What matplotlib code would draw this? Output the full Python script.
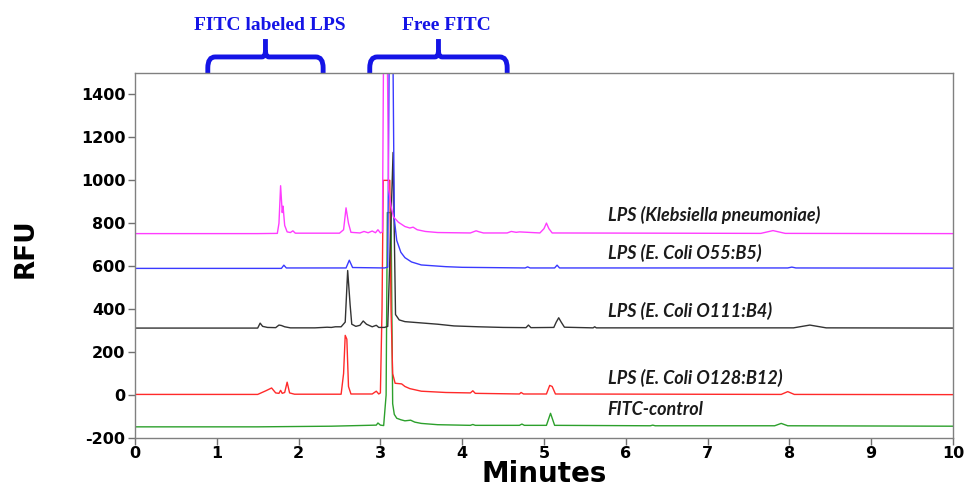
import matplotlib
matplotlib.use("Agg")
import matplotlib.pyplot as plt
from matplotlib.path import Path
from matplotlib.patches import PathPatch
from matplotlib.transforms import blended_transform_factory

plt.rcParams["axes.unicode_minus"] = False

# Retention times (minutes) and signals (RFU) for each electropherogram trace
klebsiella_t = [0.0, 1.50, 1.74, 1.76, 1.78, 1.80, 1.81, 1.83, 1.86, 1.90, 1.93, 1.96, 2.50, 2.55,
                2.58, 2.61, 2.64, 2.75, 2.80, 2.85, 2.90, 2.94, 2.97, 3.00, 3.025, 3.045, 3.075,
                3.10, 3.13, 3.16, 3.22, 3.30, 3.36, 3.40, 3.45, 3.55, 3.70, 4.10, 4.17, 4.21, 4.26,
                4.55, 4.60, 4.66, 4.70, 4.95, 5.00, 5.03, 5.06, 5.10, 7.65, 7.80, 7.95, 10.0]
klebsiella_y = [752, 752, 753, 800, 975, 850, 880, 790, 760, 757, 765, 754, 754, 770,
                872, 800, 758, 755, 762, 756, 764, 756, 770, 755, 760, 2000, 2000,
                960, 880, 830, 805, 785, 778, 782, 770, 762, 757, 755, 765, 760, 755,
                755, 762, 758, 760, 755, 775, 801, 775, 755, 753, 766, 753, 752]

o55_t = [0.0, 1.79, 1.82, 1.85, 2.58, 2.62, 2.66, 3.05, 3.09, 3.115, 3.145, 3.17, 3.20, 3.25,
         3.30, 3.38, 3.50, 3.80, 4.00, 4.77, 4.80, 4.83, 5.13, 5.16, 5.19, 7.98, 8.03, 8.08, 10.0]
o55_y = [590, 590, 605, 592, 592, 628, 594, 592, 596, 2000, 2000, 820, 720, 665,
         640, 620, 606, 598, 595, 592, 597, 592, 592, 605, 592, 592, 596, 592, 591]

o111_t = [0.0, 1.50, 1.53, 1.56, 1.62, 1.72, 1.76, 1.79, 1.83, 1.90, 2.20, 2.35, 2.40, 2.45,
          2.52, 2.57, 2.60, 2.63, 2.65, 2.70, 2.75, 2.79, 2.83, 2.90, 2.95, 2.98, 3.05, 3.09,
          3.155, 3.185, 3.23, 3.30, 3.50, 3.70, 3.90, 4.20, 4.50, 4.78, 4.81, 4.84,
          5.12, 5.15, 5.18, 5.21, 5.25, 5.60, 5.62, 5.64, 8.05, 8.25, 8.45, 10.0]
o111_y = [312, 312, 335, 320, 315, 314, 326, 324, 318, 313, 313, 316, 315, 318,
          318, 340, 580, 420, 330, 320, 325, 345, 330, 318, 325, 315, 315, 320,
          1130, 375, 350, 342, 336, 330, 322, 318, 315, 314, 326, 314,
          315, 340, 360, 340, 316, 313, 318, 313, 313, 326, 313, 312]

o128_t = [0.0, 1.50, 1.60, 1.67, 1.72, 1.76, 1.78, 1.80, 1.83, 1.86, 1.89, 1.95, 2.52, 2.55,
          2.57, 2.59, 2.61, 2.64, 2.90, 2.95, 2.98, 3.00, 3.02, 3.035, 3.115, 3.13, 3.15,
          3.18, 3.26, 3.30, 3.36, 3.50, 3.80, 4.10, 4.13, 4.16, 4.70, 4.72, 4.75, 5.03, 5.07,
          5.10, 5.14, 7.90, 7.98, 8.06, 10.0]
o128_y = [3, 3, 20, 33, 10, 8, 22, 8, 12, 60, 10, 4, 4, 100,
          278, 260, 40, 5, 5, 18, 5, 10, 400, 1000, 1000, 400, 100,
          55, 52, 40, 30, 18, 12, 10, 20, 8, 5, 12, 5, 5, 45,
          40, 5, 3, 16, 3, 2]

control_t = [0.0, 1.50, 2.40, 2.95, 2.97, 3.00, 3.04, 3.07, 3.085, 3.13, 3.15, 3.17, 3.20,
             3.25, 3.30, 3.37, 3.42, 3.50, 3.70, 4.10, 4.13, 4.16, 4.70, 4.73, 4.76, 5.03,
             5.08, 5.13, 6.30, 6.33, 6.36, 7.82, 7.90, 7.98, 10.0]
control_y = [-148, -148, -145, -140, -130, -140, -142, 0, 850, 850, -40, -90, -108,
             -115, -120, -117, -126, -132, -138, -141, -137, -141, -141, -135, -141, -141,
             -85, -141, -143, -140, -143, -143, -132, -143, -145]

traces = [
    ("FITC-control", control_t, control_y, "#2ca02c", -65),
    ("LPS (E. Coli O128:B12)", o128_t, o128_y, "#ff2a2a", 79),
    ("LPS (E. Coli O111:B4)", o111_t, o111_y, "#333333", 392),
    ("LPS (E. Coli O55:B5)", o55_t, o55_y, "#3a3aff", 660),
    ("LPS (Klebsiella pneumoniae)", klebsiella_t, klebsiella_y, "#ff3cff", 837),
]

x_ticks = list(range(0, 11))
y_ticks = list(range(-200, 1401, 200))

# Peak-group annotations: (label, start, end) in minutes
groups = [("FITC labeled LPS", 0.89, 2.30), ("Free FITC", 2.87, 4.55)]

fig = plt.figure(figsize=(9.67, 4.87), dpi=100)
ax = fig.add_axes([0.1396, 0.1006, 0.8459, 0.7495])

for name, t, y, color, label_y in traces:
    ax.plot(t, y, color=color, lw=1.0)
    ax.text(5.78, label_y, name, fontsize=13, family="Lato", style="italic",
            fontweight="bold", color="#1a1a1a", va="center", ha="left")

ax.set_xlim(0, 10)
ax.set_ylim(-200, 1500)
ax.set_xticks(x_ticks)
ax.set_yticks(y_ticks)
for lab in ax.get_xticklabels() + ax.get_yticklabels():
    lab.set_family("DejaVu Sans")
    lab.set_fontweight("bold")
    lab.set_fontsize(11.5)
ax.tick_params(direction="out", length=5, width=1, color="#707070", pad=2)
ax.tick_params(axis="x", pad=1)
for sp in ax.spines.values():
    sp.set_color("#808080")
    sp.set_linewidth(1.0)

ax.set_xlabel("Minutes", fontsize=20, fontweight="bold", family="DejaVu Sans", labelpad=-1)
ax.set_ylabel("RFU", fontsize=19, fontweight="bold", family="DejaVu Sans")
ax.yaxis.set_label_coords(-0.118, 0.52)

# Curly brackets above the plot marking the peak groups
trans = blended_transform_factory(ax.transData, ax.transAxes)
y0, yb, yt = 1.0, 1.044, 1.093
rx, ry = 0.09, 0.03
bracket_color = "#1414e6"
for label, x0, x1 in groups:
    xm = 0.5 * (x0 + x1)
    verts = [(x0, y0), (x0, yb - ry), (x0, yb), (x0 + rx, yb),
             (xm - rx * 0.5, yb), (xm, yb), (xm, yb + ry * 0.6), (xm, yt),
             (xm, yb + ry * 0.6), (xm, yb), (xm + rx * 0.5, yb),
             (x1 - rx, yb), (x1, yb), (x1, yb - ry), (x1, y0)]
    codes = [Path.MOVETO, Path.LINETO, Path.CURVE3, Path.CURVE3,
             Path.LINETO, Path.CURVE3, Path.CURVE3, Path.LINETO,
             Path.MOVETO, Path.CURVE3, Path.CURVE3,
             Path.LINETO, Path.CURVE3, Path.CURVE3, Path.LINETO]
    patch = PathPatch(Path(verts, codes), transform=trans, fill=False,
                      edgecolor=bracket_color, lw=3.5, clip_on=False, capstyle="butt")
    ax.add_patch(patch)
    ax.text(xm + (0.1 if label == "Free FITC" else 0.05), 1.13, label, transform=trans,
            ha="center", va="center", fontsize=14, fontweight="bold",
            family="Liberation Serif", color=bracket_color, clip_on=False)

fig.savefig("out.png", dpi=100)
